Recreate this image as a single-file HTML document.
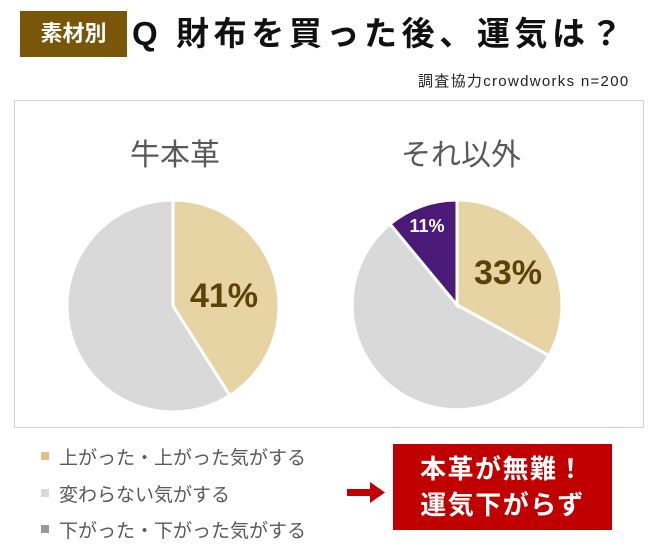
<!DOCTYPE html>
<html><head><meta charset="utf-8"><style>
body{margin:0;width:660px;height:547px;background:#fff;overflow:hidden;font-family:"Liberation Sans","Noto Sans CJK JP",sans-serif;position:relative}
.a{position:absolute;white-space:nowrap}
</style></head><body>
<div class="a" style="left:20px;top:11px;width:107px;height:46px;background:#7a5608;color:#fff;font-size:22px;font-weight:bold;line-height:46px;text-align:center">素材別</div>
<div class="a" style="left:132px;top:8px;font-size:33px;font-weight:bold;color:#111;letter-spacing:4.6px;line-height:52px">Q 財布を買った後、運気は？</div>
<div class="a" style="left:418px;top:70px;font-size:15px;color:#222;letter-spacing:1.3px">調査協力crowdworks n=200</div>
<div class="a" style="left:14px;top:100px;width:628px;height:326px;border:1px solid #d0d0d0"></div>
<div class="a" style="left:130px;top:130px;font-size:30px;color:#595959">牛本革</div>
<div class="a" style="left:401px;top:130px;font-size:30px;color:#595959">それ以外</div>
<svg class="a" style="left:0;top:0" width="660" height="547">
<g stroke="#fff" stroke-width="3">
<path d="M173,306 L173,200 A106,106 0 0 1 229.8,395.5 Z" fill="#e7d4a4"/>
<path d="M173,306 L229.8,395.5 A106,106 0 1 1 173,200 Z" fill="#d9d9d9"/>
<path d="M457,305 L457,200 A105,105 0 0 1 549,355.6 Z" fill="#e7d4a4"/>
<path d="M457,305 L549,355.6 A105,105 0 1 1 390,224 Z" fill="#d9d9d9"/>
<path d="M457,305 L390,224 A105,105 0 0 1 457,200 Z" fill="#4b1a78"/>
</g>
<text x="224" y="307" font-size="34" font-weight="bold" fill="#5e4205" text-anchor="middle" font-family="Liberation Sans, sans-serif">41%</text>
<text x="508" y="284" font-size="34" font-weight="bold" fill="#5e4205" text-anchor="middle" font-family="Liberation Sans, sans-serif">33%</text>
<text x="427" y="232" font-size="18" font-weight="bold" fill="#fff" text-anchor="middle" font-family="Liberation Sans, sans-serif">11%</text>
<rect x="41" y="452" width="8" height="8" fill="#dcc08a"/>
<rect x="41" y="489" width="8" height="8" fill="#d9d9d9"/>
<rect x="41" y="525" width="8" height="8" fill="#999"/>
<rect x="347" y="489" width="24" height="7" fill="#c00000"/>
<polygon points="370,482 385,492.5 370,503" fill="#c00000"/>
</svg>
<div class="a" style="left:59px;top:443px;font-size:19px;color:#595959">上がった・上がった気がする</div>
<div class="a" style="left:59px;top:480px;font-size:19px;color:#595959">変わらない気がする</div>
<div class="a" style="left:59px;top:516px;font-size:19px;color:#595959">下がった・下がった気がする</div>
<div class="a" style="left:393px;top:444px;width:219px;height:86px;background:#c00000;color:#fff;font-size:26px;font-weight:bold;line-height:36px;padding-top:7px;box-sizing:border-box;text-align:center;letter-spacing:1.5px">本革が無難！<br>運気下がらず</div>
</body></html>
